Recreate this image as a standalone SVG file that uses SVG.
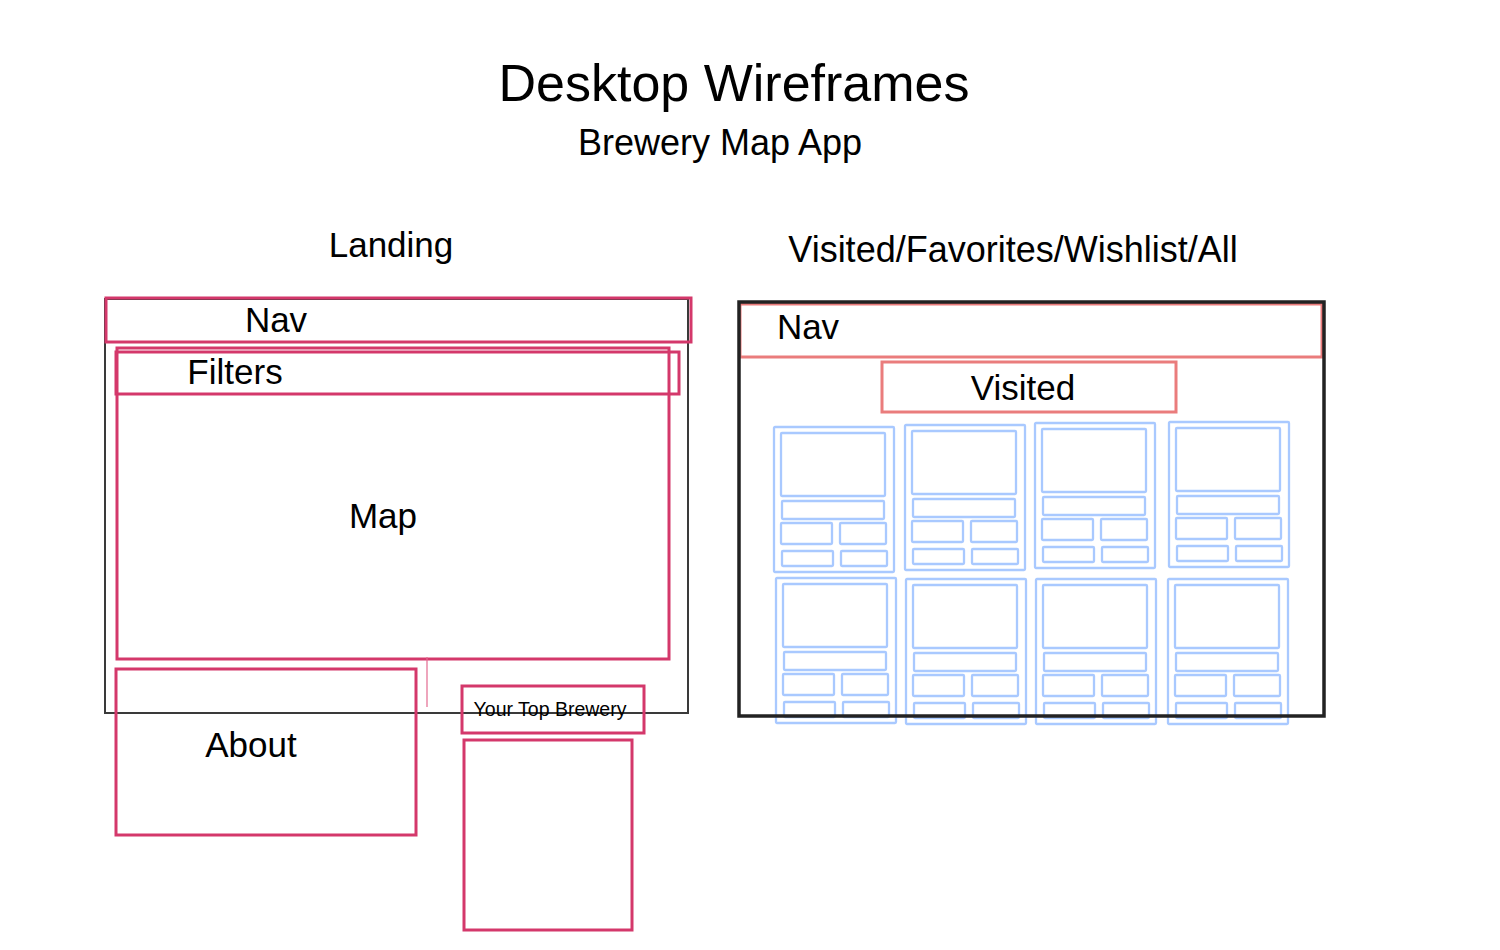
<svg xmlns="http://www.w3.org/2000/svg" xmlns:xlink="http://www.w3.org/1999/xlink" width="1500" height="950" viewBox="0 0 1500 950">
<style>
text{font-family:"Liberation Sans",Arial,Helvetica,sans-serif;fill:#000;text-anchor:middle}
.t1{font-size:52px}
.t2{font-size:35px}
.t2b{font-size:36px}
.t3{font-size:19.5px}
.frame{fill:none;stroke:#3a3a3a;stroke-width:2}
.frame2{fill:none;stroke:#222;stroke-width:3.5}
.pink{fill:none;stroke:#d4386b;stroke-width:3}
.thin{fill:none;stroke:#e36a90;stroke-width:1.2}
.red{fill:none;stroke:#ea7c7c;stroke-width:3}
.blue{fill:none;stroke:#a9c9ff;stroke-width:2.3}
</style>
<defs>
<g id="card">
<rect class="blue" x="0" y="0" width="120" height="145" rx="1"/>
<rect class="blue" x="7" y="6" width="104" height="63" rx="1"/>
<rect class="blue" x="8" y="74" width="102" height="18" rx="1"/>
<rect class="blue" x="7" y="96" width="51" height="21" rx="1"/>
<rect class="blue" x="66" y="96" width="46" height="21" rx="1"/>
<rect class="blue" x="8" y="124" width="51" height="15" rx="1"/>
<rect class="blue" x="67" y="124" width="46" height="15" rx="1"/>
</g>
</defs>
<rect width="1500" height="950" fill="#fff"/>
<g id="title">
<text class="t1" x="734" y="101">Desktop Wireframes</text>
<text class="t2b" x="720" y="155">Brewery Map App</text>
</g>
<g id="landing">
<text class="t2" x="391" y="257">Landing</text>
<rect class="frame" x="105" y="299" width="583" height="414"/>
</g>
<g id="landing-nav">
<rect class="pink" x="106" y="298" width="585" height="44"/>
<text class="t2" x="276" y="332">Nav</text>
</g>
<g id="landing-map">
<rect class="pink" x="117" y="348" width="552" height="311"/>
<line class="thin" x1="427" y1="657" x2="427" y2="707"/>
<text class="t2" x="383" y="528">Map</text>
</g>
<g id="landing-filters">
<rect class="pink" x="116" y="352" width="563" height="42"/>
<text class="t2" x="235" y="384">Filters</text>
</g>
<g id="landing-about">
<rect class="pink" x="116" y="669" width="300" height="166"/>
<text class="t2" x="251" y="757">About</text>
</g>
<g id="landing-top-brewery">
<rect class="pink" x="462" y="686" width="182" height="47"/>
<text class="t3" x="550" y="716">Your Top Brewery</text>
</g>
<g id="landing-top-brewery-box">
<rect class="pink" x="464" y="740" width="168" height="190"/>
</g>
<g id="list">
<text class="t2b" x="1013" y="262">Visited/Favorites/Wishlist/All</text>
</g>
<g id="list-nav">
<rect class="red" x="740" y="304" width="582" height="53"/>
<text class="t2" x="808" y="339">Nav</text>
</g>
<g id="list-visited">
<rect class="red" x="882" y="362" width="294" height="50"/>
<text class="t2" x="1023" y="400">Visited</text>
</g>
<g id="cards">
<use xlink:href="#card" x="774" y="427"/>
<use xlink:href="#card" x="905" y="425"/>
<use xlink:href="#card" x="1035" y="423"/>
<use xlink:href="#card" x="1169" y="422"/>
<use xlink:href="#card" x="776" y="578"/>
<use xlink:href="#card" x="906" y="579"/>
<use xlink:href="#card" x="1036" y="579"/>
<use xlink:href="#card" x="1168" y="579"/>
</g>
<g id="list-frame">
<rect class="frame2" x="739" y="302" width="585" height="414"/>
</g>
<g id="connectors"></g>
</svg>
